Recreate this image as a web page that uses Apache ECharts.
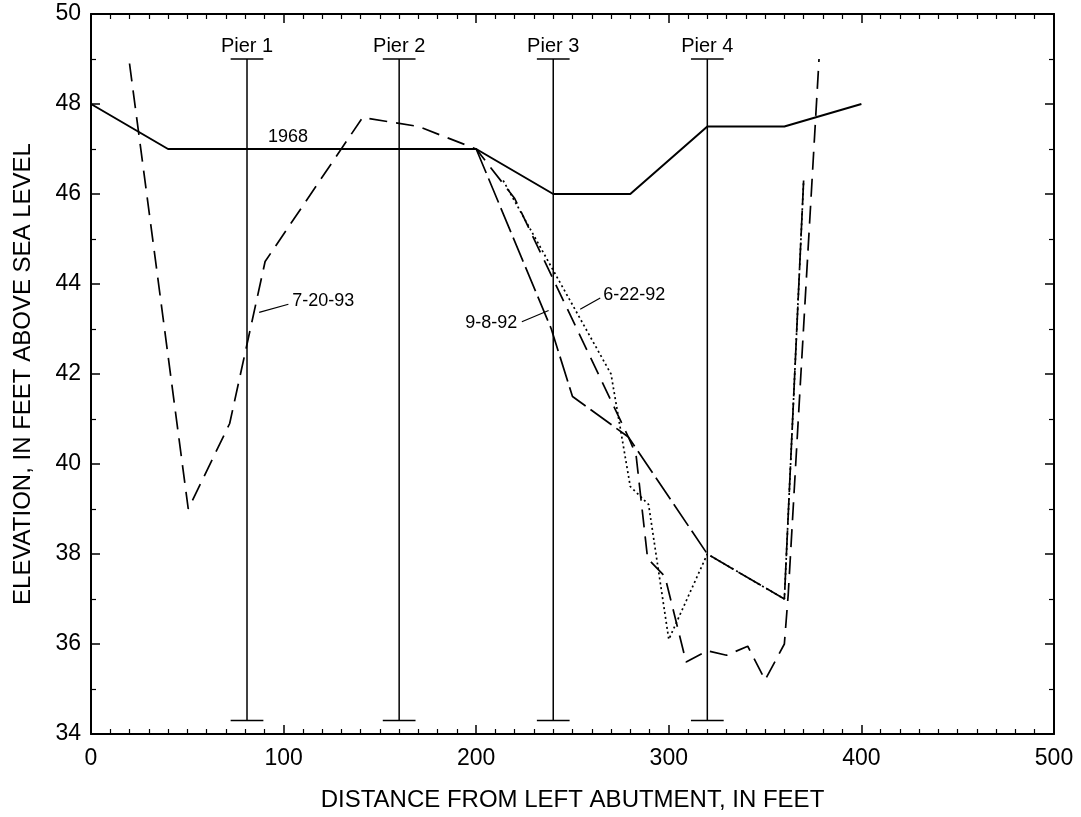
<!DOCTYPE html>
<html>
<head>
<meta charset="utf-8">
<title>Elevation profile</title>
<script src="https://cdn.jsdelivr.net/npm/echarts@6/dist/echarts.min.js"></script>
<style>
    html, body { margin: 0; padding: 0; background: #fff; }
    #main { width: 1081px; height: 817px; }
</style>
</head>
<body>
<div id="main"></div>
<script>
// profiles, [distance ft, elevation ft]
var line1968 = [[0, 48], [40, 47], [200, 47], [240, 46], [280, 46], [320, 47.5], [360, 47.5], [400, 48]];
var line72093 = [[20, 48.9], [50.5, 39], [72, 40.9], [90.4, 44.5], [141, 47.7], [170, 47.5], [200, 47],
    [220, 45.9], [279, 40.6], [283, 40.2], [289, 37.9], [298, 37.5], [309, 35.6], [320, 35.85],
    [330, 35.75], [341, 35.95], [350, 35.2], [360, 36], [362, 37.1], [378, 49]];
var line9892 = [[200, 47], [239, 43], [250, 41.5], [279, 40.6], [320, 38], [360, 37], [370, 46.3]];
var line62292 = [[214, 46.3], [270, 42], [280, 39.5], [289.5, 39.1], [300, 36.1], [320, 38], [360, 37], [370, 46.3]];

var pierX = [81, 160, 240, 320];
var pierNames = ['Pier 1', 'Pier 2', 'Pier 3', 'Pier 4'];
var pierTop = 49, pierBottom = 34.3;

var xTicks = [0, 100, 200, 300, 400, 500];
var yTicks = [34, 36, 38, 40, 42, 44, 46, 48, 50];

var FONT = '"Liberation Sans", Arial, Helvetica, sans-serif';

// text labels and their leader lines (data coords)
var notes = [
    { text: '1968', at: [102.3, 47.27], align: 'center' },
    { text: '7-20-93', at: [104.5, 43.63], align: 'left', from: [87.3, 43.37], to: [102.5, 43.55] },
    { text: '9-8-92', at: [221.3, 43.14], align: 'right', from: [237.6, 43.41], to: [223.7, 43.16] },
    { text: '6-22-92', at: [266, 43.75], align: 'left', from: [254, 43.44], to: [264.4, 43.69] }
];

var myChart = echarts.init(document.getElementById('main'));

function makeX(pos, showLabel) {
    return {
        type: 'value', position: pos, min: xTicks[0], max: xTicks[xTicks.length - 1], interval: 100,
        axisLine: { show: true, onZero: false, lineStyle: { color: '#000', width: 2 } },
        axisTick: { show: true, inside: true, length: 9, lineStyle: { color: '#000', width: 1.5 } },
        minorTick: { show: true, splitNumber: 10, length: 5, lineStyle: { color: '#000', width: 1.2 } },
        splitLine: { show: false },
        axisLabel: { show: showLabel, fontSize: 23, color: '#000', margin: 13, fontFamily: FONT },
        name: showLabel ? 'DISTANCE FROM LEFT ABUTMENT, IN FEET' : '',
        nameLocation: 'middle', nameGap: 54,
        nameTextStyle: { fontSize: 24, color: '#000', fontFamily: FONT }
    };
}
function makeY(pos, showLabel) {
    return {
        type: 'value', position: pos, min: yTicks[0], max: yTicks[yTicks.length - 1], interval: 2,
        axisLine: { show: true, onZero: false, lineStyle: { color: '#000', width: 2 } },
        axisTick: { show: true, inside: true, length: 9, lineStyle: { color: '#000', width: 1.5 } },
        minorTick: { show: true, splitNumber: 2, length: 5, lineStyle: { color: '#000', width: 1.2 } },
        splitLine: { show: false },
        axisLabel: { show: showLabel, fontSize: 23, color: '#000', margin: 10, fontFamily: FONT },
        name: showLabel ? 'ELEVATION, IN FEET ABOVE SEA LEVEL' : '',
        nameLocation: 'middle', nameGap: 56,
        nameTextStyle: { fontSize: 24, color: '#000', fontFamily: FONT }
    };
}

function profile(name, data, type, width) {
    return {
        name: name, type: 'line', data: data, symbol: 'none', silent: true,
        xAxisIndex: 0, yAxisIndex: 0,
        lineStyle: { color: '#000', width: width, type: type }
    };
}

var option = {
    animation: false,
    backgroundColor: '#fff',
    grid: { left: 91, right: 27, top: 14, bottom: 77 },
    xAxis: [makeX('bottom', true), makeX('top', false)],
    yAxis: [makeY('left', true), makeY('right', false)],
    series: [
        // piers drawn as I-beams
        {
            type: 'custom', xAxisIndex: 0, yAxisIndex: 0, silent: true,
            data: pierX.map(function (x, i) { return { name: pierNames[i], value: [x, pierTop] }; }),
            encode: { x: 0, y: 1 },
            renderItem: function (params, api) {
                var x = api.value(0);
                var t = api.coord([x, pierTop]);
                var b = api.coord([x, pierBottom]);
                var tl = api.coord([x - 8.5, pierTop]), tr = api.coord([x + 8.5, pierTop]);
                var bl = api.coord([x - 8.5, pierBottom]), br = api.coord([x + 8.5, pierBottom]);
                var st = { stroke: '#000', lineWidth: 1.5 };
                return {
                    type: 'group',
                    children: [
                        { type: 'line', shape: { x1: t[0], y1: t[1], x2: b[0], y2: b[1] }, style: st },
                        { type: 'line', shape: { x1: tl[0], y1: tl[1], x2: tr[0], y2: tr[1] }, style: st },
                        { type: 'line', shape: { x1: bl[0], y1: bl[1], x2: br[0], y2: br[1] }, style: st },
                        {
                            type: 'text', x: t[0], y: t[1] - 3,
                            style: {
                                text: pierNames[params.dataIndex], fill: '#000', font: '20px ' + FONT,
                                textAlign: 'center', textVerticalAlign: 'bottom'
                            }
                        }
                    ]
                };
            }
        },
        profile('1968', line1968, 'solid', 2),
        profile('7-20-93', line72093, [18, 9], 1.7),
        profile('9-8-92', line9892, [26, 6], 1.7),
        profile('6-22-92', line62292, [2, 3], 1.7),
        // labels
        {
            type: 'custom', xAxisIndex: 0, yAxisIndex: 0, silent: true,
            data: notes.map(function (n) { return n.at; }),
            encode: { x: 0, y: 1 },
            renderItem: function (params, api) {
                var n = notes[params.dataIndex];
                var p = api.coord(n.at);
                var kids = [{
                    type: 'text', x: p[0], y: p[1],
                    style: { text: n.text, fill: '#000', font: '18px ' + FONT, textAlign: n.align, textVerticalAlign: 'middle' }
                }];
                if (n.from) {
                    var a = api.coord(n.from), c = api.coord(n.to);
                    kids.push({ type: 'line', shape: { x1: a[0], y1: a[1], x2: c[0], y2: c[1] }, style: { stroke: '#000', lineWidth: 1.2 } });
                }
                return { type: 'group', children: kids };
            }
        }
    ]
};

myChart.setOption(option);
window.onresize = function () {
    myChart.resize();
};
</script>
</body>
</html>
